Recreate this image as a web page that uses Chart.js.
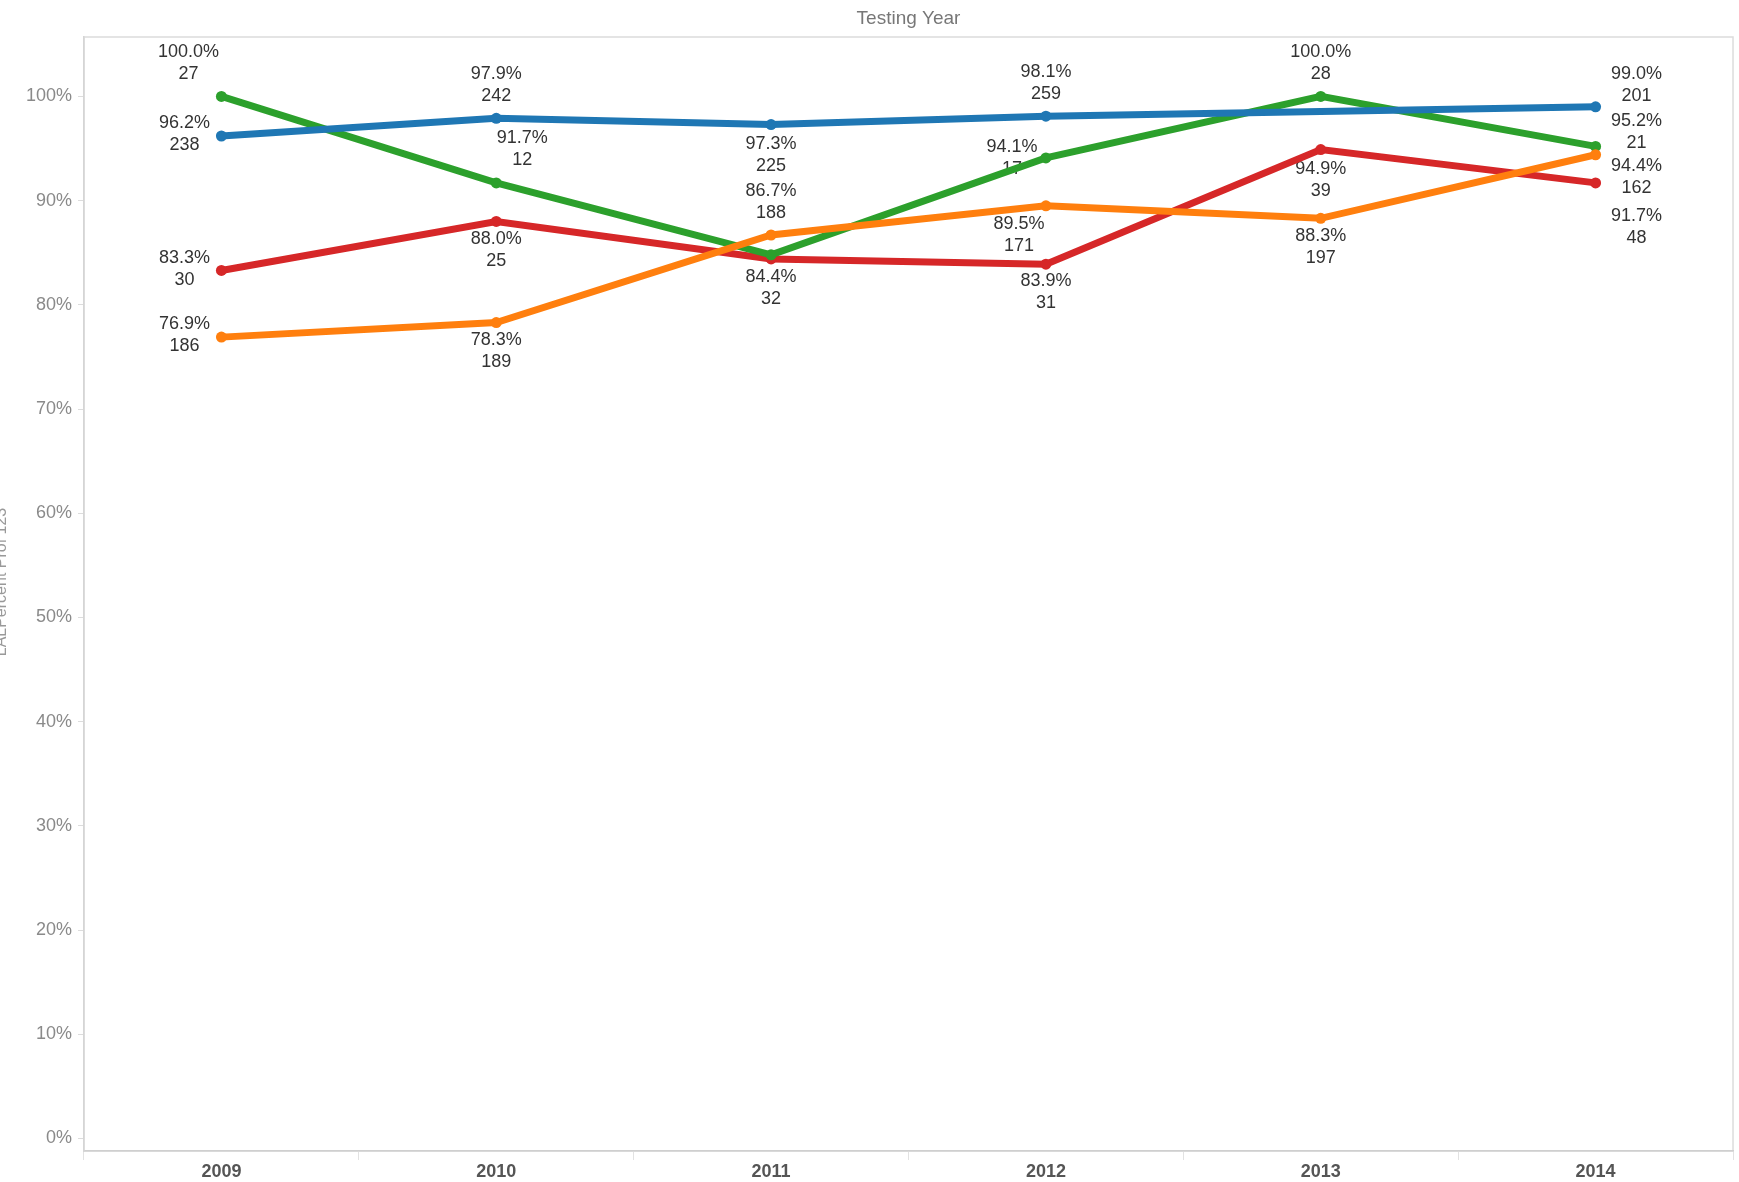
<!DOCTYPE html>
<html lang="en">
<head>
    <meta charset="UTF-8">
    <script src="https://cdn.jsdelivr.net/npm/chart.js"></script>
    <title>Testing Year</title>
    <style>
        html, body { margin: 0; padding: 0; background: #fff; }
        #wrap { width: 1739px; height: 1182px; position: relative; }
    </style>
</head>
<body>
    <div id="wrap">
        <canvas id="myChart" width="1739" height="1182"></canvas>
    </div>

    <script>
        // data
        const years = ['2009', '2010', '2011', '2012', '2013', '2014'];
        const yTicks = [0, 10, 20, 30, 40, 50, 60, 70, 80, 90, 100];

        const bluePct = [96.2, 97.9, 97.3, 98.1, null, 99.0];
        const blueCount = [238, 242, 225, 259, null, 201];
        const orangePct = [76.9, 78.3, 86.7, 89.5, 88.3, 94.4];
        const orangeCount = [186, 189, 188, 171, 197, 162];
        const greenPct = [100.0, 91.7, 84.8, 94.1, 100.0, 95.2];
        const greenCount = [27, 12, null, 17, 28, 21];
        const redPct = [83.3, 88.0, 84.4, 83.9, 94.9, 91.7];
        const redCount = [30, 25, 32, 31, 39, 48];

        // where each label block sits relative to its point (px)
        const blueLabelPos = [[-37, -2], [0, -33], [0, 30], [0, -33], null, [41, -22]];
        const orangeLabelPos = [[-37, -2], [0, 28], [0, -33], [-27, 29], [0, 29], [41, 22]];
        const greenLabelPos = [[-33, -33], [26, -34], null, [-34, 0], [0, -33], [41, -14]];
        const redLabelPos = [[-37, -1], [0, 29], [0, 29], [0, 28], [0, 30], [41, 44]];

        function series(label, values, counts, pos, color) {
            return {
                label: label,
                data: values,
                counts: counts,
                labelPos: pos,
                borderColor: color,
                backgroundColor: color,
                borderWidth: 7,
                pointRadius: 5.5,
                pointHoverRadius: 5.5,
                pointBorderWidth: 0,
                tension: 0,
                spanGaps: true
            };
        }

        const pointLabels = {
            id: 'pointLabels',
            beforeDatasetsDraw(chart) {
                const ctx = chart.ctx;
                ctx.save();
                ctx.font = '18px Arial, "Liberation Sans", sans-serif';
                ctx.fillStyle = '#333';
                ctx.textAlign = 'center';
                ctx.textBaseline = 'middle';
                chart.data.datasets.forEach((ds, i) => {
                    const meta = chart.getDatasetMeta(i);
                    ds.data.forEach((v, j) => {
                        if (v == null || ds.counts[j] == null || !ds.labelPos[j]) return;
                        const pt = meta.data[j];
                        const cx = pt.x + ds.labelPos[j][0];
                        const cy = pt.y + ds.labelPos[j][1];
                        ctx.fillText(v.toFixed(1) + '%', cx, cy - 11);
                        ctx.fillText(String(ds.counts[j]), cx, cy + 11);
                    });
                });
                ctx.restore();
            }
        };

        const frame = {
            id: 'frame',
            beforeDraw(chart) {
                const ctx = chart.ctx;
                const a = chart.chartArea;
                ctx.save();
                ctx.strokeStyle = '#dcdcdc';
                ctx.lineWidth = 1.5;
                ctx.strokeRect(a.left, a.top, a.right - a.left, a.bottom - a.top);
                // axis titles
                ctx.fillStyle = '#777';
                ctx.font = '19px Arial, "Liberation Sans", sans-serif';
                ctx.textAlign = 'center';
                ctx.textBaseline = 'middle';
                ctx.fillText('Testing Year', (a.left + a.right) / 2, 19);
                ctx.translate(2, 582);
                ctx.rotate(-Math.PI / 2);
                ctx.fillStyle = '#999';
                ctx.font = '16px Arial, "Liberation Sans", sans-serif';
                ctx.fillText('LALPercent Prof 123', 0, 0);
                ctx.restore();
            }
        };

        const ctx = document.getElementById('myChart').getContext('2d');
        const myChart = new Chart(ctx, {
            type: 'line',
            data: {
                labels: years,
                datasets: [
                    series('Blue', bluePct, blueCount, blueLabelPos, '#1f77b4'),
                    series('Orange', orangePct, orangeCount, orangeLabelPos, '#ff7f0e'),
                    series('Green', greenPct, greenCount, greenLabelPos, '#2ca02c'),
                    series('Red', redPct, redCount, redLabelPos, '#d62728')
                ]
            },
            options: {
                responsive: false,
                animation: false,
                layout: { padding: { top: 37, right: 6, left: 0, bottom: 0 } },
                scales: {
                    x: {
                        offset: true,
                        grid: {
                            offset: true,
                            drawOnChartArea: false,
                            tickLength: 9,
                            color: '#e2e2e2'
                        },
                        border: { color: '#cfcfcf', width: 1.5 },
                        ticks: {
                            color: '#555',
                            padding: 1,
                            font: { family: 'Arial, "Liberation Sans", sans-serif', size: 18, weight: 'bold' }
                        },
                        afterFit(scale) { scale.height = 31; }
                    },
                    y: {
                        min: -1.2,
                        max: 105.7,
                        afterBuildTicks(scale) {
                            scale.ticks = yTicks.map(v => ({ value: v }));
                        },
                        grid: {
                            drawOnChartArea: false,
                            tickLength: 6,
                            color: '#dcdcdc'
                        },
                        border: { color: '#d5d5d5', width: 1.5 },
                        ticks: {
                            color: '#8a8a8a',
                            padding: 6,
                            font: { family: 'Arial, "Liberation Sans", sans-serif', size: 18 },
                            callback: v => v + '%'
                        },
                        afterFit(scale) { scale.width = 84; }
                    }
                },
                plugins: {
                    legend: { display: false },
                    tooltip: { enabled: false }
                }
            },
            plugins: [frame, pointLabels]
        });
    </script>
</body>
</html>
